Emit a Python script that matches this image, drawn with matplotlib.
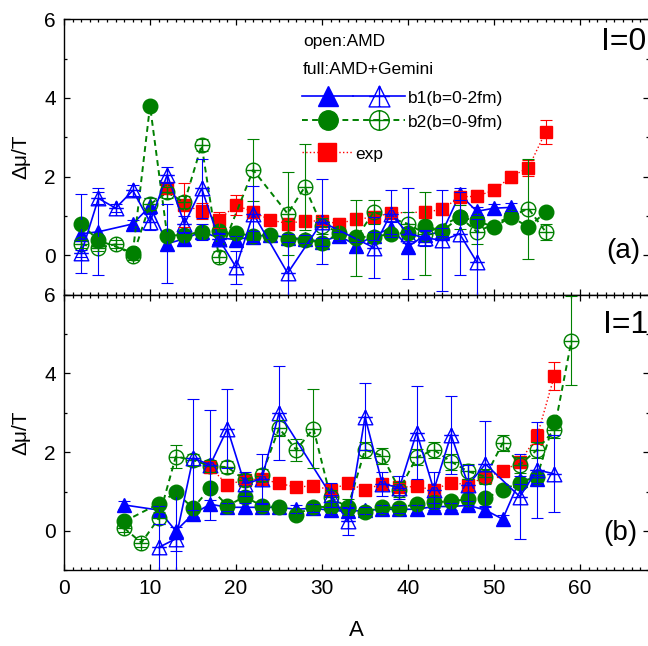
import matplotlib
matplotlib.use('Agg')
import matplotlib.pyplot as plt
from matplotlib.path import Path
from matplotlib.lines import Line2D
from matplotlib.legend_handler import HandlerTuple
from matplotlib.ticker import MultipleLocator

plt.rcParams['font.family'] = ['Liberation Sans', 'DejaVu Sans']

# ---------------- panel (a): I=0 ----------------
a_b1f_A = [2, 4, 8, 10, 12, 14, 16, 18, 20, 22, 24, 26, 28, 30, 32, 34, 36, 38, 40, 42, 44, 46, 48, 50, 52]
a_b1f_v = [0.55, 0.6, 0.8, 1.25, 0.3, 0.42, 0.6, 0.45, 0.4, 0.48, 0.52, 0.45, 0.42, 0.35, 0.5, 0.25, 0.5,
           0.7, 0.22, 0.52, 0.6, 1.55, 1.12, 1.2, 1.22]
a_b1f_e = [1.0, 1.1, 0.1, 0.2, 1.0, 0.15, 0.2, 0.1, 0.1, 0.15, 0.1, 0.1, 0.1, 0.1, 0.1, 0.1, 0.1,
           0.15, 0.1, 0.1, 0.1, 0.15, 0.1, 0.1, 0.1]

a_b1o_A = [2, 4, 6, 8, 10, 12, 14, 16, 18, 20, 22, 26, 30, 36, 38, 40, 42, 44, 46, 48]
a_b1o_v = [0.05, 1.45, 1.2, 1.65, 0.85, 2.05, 0.8, 1.7, 0.42, -0.3, 1.06, -0.45, 0.85, 0.2, 1.06, 0.55,
           0.45, 0.38, 0.55, -0.17]
a_b1o_e = [0.1, 0.15, 0.1, 0.15, 0.2, 0.2, 0.2, 0.75, 0.15, 0.42, 0.7, 0.8, 1.08, 0.78, 0.6, 1.15,
           0.2, 1.29, 1.06, 1.1]

a_b2f_A = [2, 4, 8, 10, 12, 14, 16, 18, 20, 22, 24, 26, 28, 30, 32, 34, 36, 38, 40, 42, 44, 46, 48, 50, 52, 54, 56]
a_b2f_v = [0.8, 0.38, 0.07, 3.8, 0.5, 0.52, 0.6, 0.62, 0.56, 0.5, 0.52, 0.42, 0.4, 0.32, 0.56, 0.47, 0.47,
           0.55, 0.57, 0.75, 0.62, 0.97, 0.88, 0.72, 0.98, 0.72, 1.1]
a_b2f_e = [0.1] * len(a_b2f_A)

a_b2o_A = [2, 4, 6, 8, 10, 12, 14, 16, 18, 22, 26, 28, 30, 34, 36, 40, 42, 46, 48, 54, 56]
a_b2o_v = [0.28, 0.2, 0.28, -0.02, 1.3, 1.6, 1.35, 2.8, -0.03, 2.17, 1.06, 1.74, 0.75, 0.45, 1.1, 0.8,
           0.55, 0.98, 0.6, 1.19, 0.6]
a_b2o_e = [0.1, 0.1, 0.1, 0.1, 0.15, 0.15, 0.15, 0.15, 0.15, 0.8, 1.05, 1.1, 0.2, 0.97, 0.3, 0.3,
           1.06, 0.3, 0.3, 1.27, 0.2]

a_exp_A = [12, 14, 16, 18, 20, 22, 24, 26, 28, 30, 32, 34, 36, 38, 42, 44, 46, 48, 50, 52, 54, 56]
a_exp_v = [1.7, 1.28, 1.12, 0.9, 1.28, 1.1, 0.9, 0.81, 0.88, 0.87, 0.81, 0.92, 0.97, 1.08, 1.1, 1.17,
           1.49, 1.5, 1.66, 2.0, 2.23, 3.14]
a_exp_e = [0.15, 0.55, 0.2, 0.2, 0.25, 0.15, 0.1, 0.1, 0.1, 0.1, 0.15, 0.15, 0.15, 0.1, 0.15, 0.15,
           0.15, 0.15, 0.15, 0.15, 0.2, 0.3]

# ---------------- panel (b): I=1 ----------------
b_b1f_A = [7, 11, 13, 15, 17, 19, 21, 23, 25, 27, 29, 31, 33, 35, 37, 39, 41, 43, 45, 47, 49, 51, 53, 55]
b_b1f_v = [0.66, 0.53, 0.0, 0.43, 0.68, 0.6, 0.6, 0.6, 0.6, 0.55, 0.58, 0.52, 0.5, 0.52, 0.55, 0.55,
           0.55, 0.62, 0.62, 0.65, 0.53, 0.3, 1.3, 1.32]
b_b1f_e = [0.1, 0.1, 1.1, 0.1, 0.1, 0.1, 0.1, 0.1, 0.1, 0.1, 0.1, 0.1, 0.1, 0.1, 0.1, 0.1,
           0.1, 0.1, 0.1, 0.1, 0.1, 0.1, 0.1, 0.1]

b_b1o_A = [11, 13, 15, 17, 19, 21, 23, 25, 31, 33, 35, 37, 39, 41, 43, 45, 47, 49, 53, 55, 57]
b_b1o_v = [-0.42, -0.2, 1.85, 1.68, 2.6, 1.2, 1.32, 3.0, 0.92, 0.24, 2.9, 1.2, 1.1, 2.5, 1.04, 2.44,
           1.17, 1.7, 0.87, 1.55, 1.45]
b_b1o_e = [0.6, 0.3, 1.5, 1.4, 1.0, 0.3, 0.64, 1.2, 0.3, 0.35, 0.85, 0.3, 0.3, 1.17, 0.45, 1.0,
           0.5, 1.1, 1.08, 1.23, 0.98]

b_b2f_A = [7, 11, 13, 15, 17, 19, 21, 23, 25, 27, 29, 31, 33, 35, 37, 39, 41, 43, 45, 47, 49, 51, 53, 55, 57]
b_b2f_v = [0.24, 0.69, 0.98, 0.58, 1.09, 0.64, 0.87, 0.64, 0.6, 0.41, 0.62, 0.6, 0.58, 0.49, 0.6, 0.58,
           0.69, 0.73, 0.75, 0.81, 0.83, 1.04, 1.23, 1.38, 2.78]
b_b2f_e = [0.1] * len(b_b2f_A)

b_b2o_A = [7, 9, 11, 13, 15, 17, 19, 21, 23, 25, 27, 29, 31, 33, 35, 37, 39, 41, 43, 45, 47, 49, 51,
           53, 55, 57, 59]
b_b2o_v = [0.07, -0.3, 0.32, 1.89, 1.8, 1.65, 1.62, 1.3, 1.42, 2.61, 2.06, 2.6, 0.85, 0.6, 2.06, 1.91,
           1.05, 1.87, 2.06, 1.76, 1.51, 1.38, 2.23, 1.68, 2.06, 2.57, 4.83]
b_b2o_e = [0.1, 0.1, 0.15, 0.3, 0.15, 0.15, 0.15, 0.15, 0.15, 0.2, 0.28, 1.0, 0.2, 0.2, 0.2, 0.2,
           0.2, 0.2, 0.2, 0.2, 0.2, 0.2, 0.2, 0.2, 0.2, 0.2, 1.13]

b_exp_A = [17, 19, 21, 23, 25, 27, 29, 31, 33, 35, 37, 39, 41, 43, 45, 47, 49, 51, 53, 55, 57]
b_exp_v = [1.62, 1.17, 1.3, 1.32, 1.21, 1.11, 1.15, 1.04, 1.21, 1.04, 1.2, 1.11, 1.13, 1.04, 1.23,
           1.17, 1.38, 1.51, 1.76, 2.4, 3.93]
b_exp_e = [0.15, 0.15, 0.1, 0.1, 0.1, 0.1, 0.1, 0.1, 0.1, 0.1, 0.1, 0.1, 0.1, 0.1, 0.1,
           0.1, 0.1, 0.1, 0.15, 0.2, 0.36]

legend_texts = ['open:AMD', 'full:AMD+Gemini']
labels = ['b1(b=0-2fm)', 'b2(b=0-9fm)', 'exp']

BLUE = '#0000FF'
GREEN = '#008000'
RED = '#FF0000'

# custom "plus-interior" markers (Origin style)
_plus = Path([(-1, 0), (1, 0), (0, -1), (0, 1)],
             [Path.MOVETO, Path.LINETO, Path.MOVETO, Path.LINETO])
_tri = Path([(0, 1), (-1, -1), (1, -1), (0, 1)],
            [Path.MOVETO, Path.LINETO, Path.LINETO, Path.CLOSEPOLY])
TRI_PLUS = Path.make_compound_path(_tri, _plus)
CIRC_PLUS = Path.make_compound_path(Path.unit_circle(), _plus)

MS = 10.5


def draw(ax, A, v, e, color, marker, filled, ls, lw, z, ms=MS, dashes=None):
    kw = dict(color=color, lw=lw, marker=marker, ms=ms, mec=color,
              mfc=color if filled else 'none', mew=1.0, zorder=z, ls=ls)
    ln, = ax.plot(A, v, **kw)
    if dashes is not None:
        ln.set_dashes(dashes)
    ax.errorbar(A, v, yerr=e, fmt='none', ecolor=color, elinewidth=0.8,
                capsize=4.5, capthick=0.8, zorder=10)


fig = plt.figure(figsize=(6.48, 6.46), dpi=100)
ax1 = fig.add_axes([0.0988, 0.5437, 0.9025, 0.4265])
ax2 = fig.add_axes([0.0988, 0.1172, 0.9025, 0.4265])

panels = [
    (ax1, (a_b1f_A, a_b1f_v, a_b1f_e), (a_b1o_A, a_b1o_v, a_b1o_e), (a_b2f_A, a_b2f_v, a_b2f_e),
     (a_b2o_A, a_b2o_v, a_b2o_e), (a_exp_A, a_exp_v, a_exp_e)),
    (ax2, (b_b1f_A, b_b1f_v, b_b1f_e), (b_b1o_A, b_b1o_v, b_b1o_e), (b_b2f_A, b_b2f_v, b_b2f_e),
     (b_b2o_A, b_b2o_v, b_b2o_e), (b_exp_A, b_exp_v, b_exp_e)),
]

for ax, b1f, b1o, b2f, b2o, ex in panels:
    draw(ax, *b1f, BLUE, '^', True, '-', 1.2, 3)
    draw(ax, *ex, RED, 's', True, ':', 1.0, 4, ms=9)
    draw(ax, *b2f, GREEN, 'o', True, '--', 1.4, 5, dashes=(3, 2.2))
    draw(ax, *b2o, GREEN, CIRC_PLUS, False, '--', 1.4, 6, dashes=(3, 2.2))
    draw(ax, *b1o, BLUE, TRI_PLUS, False, '-', 1.2, 7)

    ax.set_xlim(0, 68)
    ax.set_ylim(-1, 6)
    ax.xaxis.set_major_locator(MultipleLocator(10))
    ax.xaxis.set_minor_locator(MultipleLocator(1))
    ax.yaxis.set_major_locator(MultipleLocator(2))
    ax.yaxis.set_minor_locator(MultipleLocator(1))
    ax.tick_params(which='both', direction='in', top=True, right=True, width=0.9,
                   labelsize=15, pad=6)
    ax.tick_params(which='major', length=4)
    ax.tick_params(which='minor', length=2.2)
    for s in ax.spines.values():
        s.set_linewidth(1.0)
    ax.set_ylabel('Δμ/T', fontsize=15, labelpad=10)

ax1.tick_params(labelbottom=False)
ax2.set_xlabel('A', fontsize=16, labelpad=16)

# panel annotations
ax1.text(0.918, 0.916, 'I=0', transform=ax1.transAxes, fontsize=23, va='center', ha='left')
ax1.text(0.985, 0.159, '(a)', transform=ax1.transAxes, fontsize=20, va='center', ha='right')
ax2.text(0.922, 0.890, 'I=1', transform=ax2.transAxes, fontsize=23, va='center', ha='left')
ax2.text(0.98, 0.135, '(b)', transform=ax2.transAxes, fontsize=20, va='center', ha='right')

ax1.text(0.4087, 0.921, legend_texts[0], transform=ax1.transAxes, fontsize=12.5, va='center')
ax1.text(0.4087, 0.816, legend_texts[1], transform=ax1.transAxes, fontsize=12.5, va='center')

LMS = 15
h_b1 = (Line2D([], [], color=BLUE, lw=1.2, marker='^', ms=LMS, mfc=BLUE, mec=BLUE),
        Line2D([], [], color=BLUE, lw=1.2, marker=TRI_PLUS, ms=LMS, mfc='none', mec=BLUE, mew=1.0))
h_b2 = (Line2D([], [], color=GREEN, lw=1.4, ls=(0, (3, 2.2)), marker='o', ms=LMS - 1, mfc=GREEN, mec=GREEN),
        Line2D([], [], color=GREEN, lw=1.4, ls=(0, (3, 2.2)), marker=CIRC_PLUS, ms=LMS - 1, mfc='none',
               mec=GREEN, mew=1.0))
h_exp = Line2D([], [], color=RED, lw=1.0, ls=':', marker='s', ms=13, mfc=RED, mec=RED)

leg1 = ax1.legend([h_b1, h_b2], labels[:2], handler_map={tuple: HandlerTuple(ndivide=None, pad=0)},
                  loc='upper left', bbox_to_anchor=(0.407, 0.747), frameon=False, fontsize=12.5,
                  handlelength=5.92, handletextpad=0.15, borderpad=0, borderaxespad=0,
                  labelspacing=0.45, handleheight=1.0, numpoints=1)
ax1.add_artist(leg1)
ax1.legend([h_exp], labels[2:], loc='upper left', bbox_to_anchor=(0.407, 0.544), frameon=False,
           fontsize=12.5, handlelength=2.9, handletextpad=0.15, borderpad=0, borderaxespad=0,
           handleheight=1.0, numpoints=1)

fig.savefig('out.png', dpi=100)
